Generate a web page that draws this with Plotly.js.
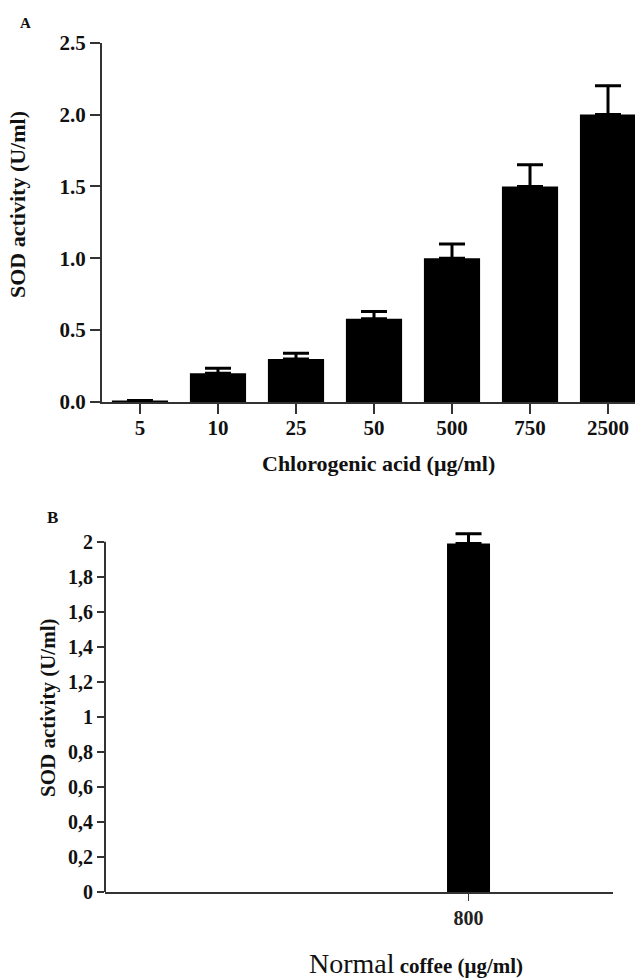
<!DOCTYPE html>
<html>
<head>
<meta charset="utf-8">
<script src="https://cdn.plot.ly/plotly-3.0.1.min.js"></script>
<style>html,body{margin:0;padding:0;background:#fff;}#chart{width:635px;height:980px;}</style>
</head>
<body>
<div id="chart"></div>
<script>
// Panel A: Chlorogenic acid
const concA = ['5', '10', '25', '50', '500', '750', '2500'];
const sodA = [0.01, 0.2, 0.3, 0.58, 1.0, 1.5, 2.0];
const errA = [0.0, 0.035, 0.04, 0.05, 0.1, 0.15, 0.2];
const yTicksA = [0, 0.5, 1.0, 1.5, 2.0, 2.5];
const yTickTextA = ['0.0', '0.5', '1.0', '1.5', '2.0', '2.5'];

// Panel B: Normal coffee
const concB = ['800'];
const sodB = [1.99];
const errB = [0.055];
const yTicksB = [0, 0.2, 0.4, 0.6, 0.8, 1.0, 1.2, 1.4, 1.6, 1.8, 2.0];
const yTickTextB = ['0', '0,2', '0,4', '0,6', '0,8', '1', '1,2', '1,4', '1,6', '1,8', '2'];

const serif = 'Liberation Serif, Times New Roman, serif';
const axisCol = '#333333';

const traces = [
  {
    type: 'bar', x: concA, y: sodA, xaxis: 'x', yaxis: 'y',
    width: 0.72, marker: {color: '#000000', line: {width: 0}},
    error_y: {type: 'data', array: errA, arrayminus: concA.map(() => 0), symmetric: false,
              color: '#000000', thickness: 3, width: 13},
    cliponaxis: false, hoverinfo: 'x+y', showlegend: false
  },
  {
    type: 'bar', x: concB, y: sodB, xaxis: 'x2', yaxis: 'y2',
    width: 0.5, marker: {color: '#000000', line: {width: 0}},
    error_y: {type: 'data', array: errB, arrayminus: [0], symmetric: false,
              color: '#000000', thickness: 3, width: 13},
    cliponaxis: false, hoverinfo: 'x+y', showlegend: false
  }
];

const tickFontBold = {family: serif, size: 21, color: '#111', weight: 'bold'};

const layout = {
  width: 635, height: 980,
  margin: {l: 0, r: 0, t: 0, b: 0},
  paper_bgcolor: '#ffffff', plot_bgcolor: '#ffffff',
  showlegend: false,
  xaxis: {
    domain: [102/635, 1], anchor: 'y', type: 'category',
    range: [-0.487, 6.346],
    showline: true, linecolor: axisCol, linewidth: 2,
    ticks: 'outside', ticklen: 10, tickwidth: 2, tickcolor: axisCol,
    ticklabelstandoff: -4,
    tickfont: tickFontBold, showgrid: false, zeroline: false, automargin: false
  },
  yaxis: {
    domain: [1 - 402/980, 1 - 42.7/980], anchor: 'x',
    range: [0, 2.5],
    tickvals: yTicksA, ticktext: yTickTextA,
    showline: true, linecolor: axisCol, linewidth: 2,
    ticks: 'outside', ticklen: 10, tickwidth: 2, tickcolor: axisCol,
    tickfont: tickFontBold, showgrid: false, zeroline: false, automargin: false
  },
  xaxis2: {
    domain: [105/635, 613/635], anchor: 'y2', type: 'category',
    range: [-4.227, 1.68],
    showline: true, linecolor: axisCol, linewidth: 2,
    ticks: 'outside', ticklen: 7, tickwidth: 1.5, tickcolor: axisCol,
    tickfont: {family: serif, size: 20, color: '#222', weight: 'bold'},
    showgrid: false, zeroline: false, automargin: false
  },
  yaxis2: {
    domain: [1 - 892/980, 1 - 524.2/980], anchor: 'x2',
    range: [0, 2.1],
    tickvals: yTicksB, ticktext: yTickTextB,
    showline: false,
    ticks: 'outside', ticklen: 7, tickwidth: 2, tickcolor: axisCol,
    tickfont: {family: serif, size: 20, color: '#111', weight: 'bold'},
    showgrid: false, zeroline: false, automargin: false
  },
  shapes: [
    {type: 'line', xref: 'x2 domain', yref: 'y2', x0: 0, x1: 0, y0: 0, y1: 2,
     line: {color: axisCol, width: 2}}
  ],
  annotations: [
    {text: '<b>A</b>', xref: 'paper', yref: 'paper', x: 25/635, y: 1 - 23/980,
     xanchor: 'center', yanchor: 'middle', showarrow: false,
     font: {family: serif, size: 15, color: '#111'}},
    {text: '<b>SOD activity (U/ml)</b>', xref: 'paper', yref: 'paper', x: 18/635, y: 1 - 205/980,
     xanchor: 'center', yanchor: 'middle', textangle: -90, showarrow: false,
     font: {family: serif, size: 22, color: '#111'}},
    {text: '<b>Chlorogenic acid (μg/ml)</b>', xref: 'paper', yref: 'paper', x: 378/635, y: 1 - 463/980,
     xanchor: 'center', yanchor: 'middle', showarrow: false,
     font: {family: serif, size: 22, color: '#111'}},
    {text: '<b>B</b>', xref: 'paper', yref: 'paper', x: 52/635, y: 1 - 517/980,
     xanchor: 'center', yanchor: 'middle', showarrow: false,
     font: {family: serif, size: 17, color: '#111'}},
    {text: '<b>SOD activity (U/ml)</b>', xref: 'paper', yref: 'paper', x: 48/635, y: 1 - 708/980,
     xanchor: 'center', yanchor: 'middle', textangle: -90, showarrow: false,
     font: {family: serif, size: 21, color: '#111'}},
    {text: '<span style="font-size:28px">Normal</span> <b>coffee (μg/ml)</b>', xref: 'paper', yref: 'paper',
     x: 416/635, y: 0, borderpad: 0,
     xanchor: 'center', yanchor: 'bottom', showarrow: false,
     font: {family: serif, size: 21, color: '#111'}}
  ]
};

Plotly.newPlot('chart', traces, layout, {displayModeBar: false, staticPlot: true});
</script>
</body>
</html>
